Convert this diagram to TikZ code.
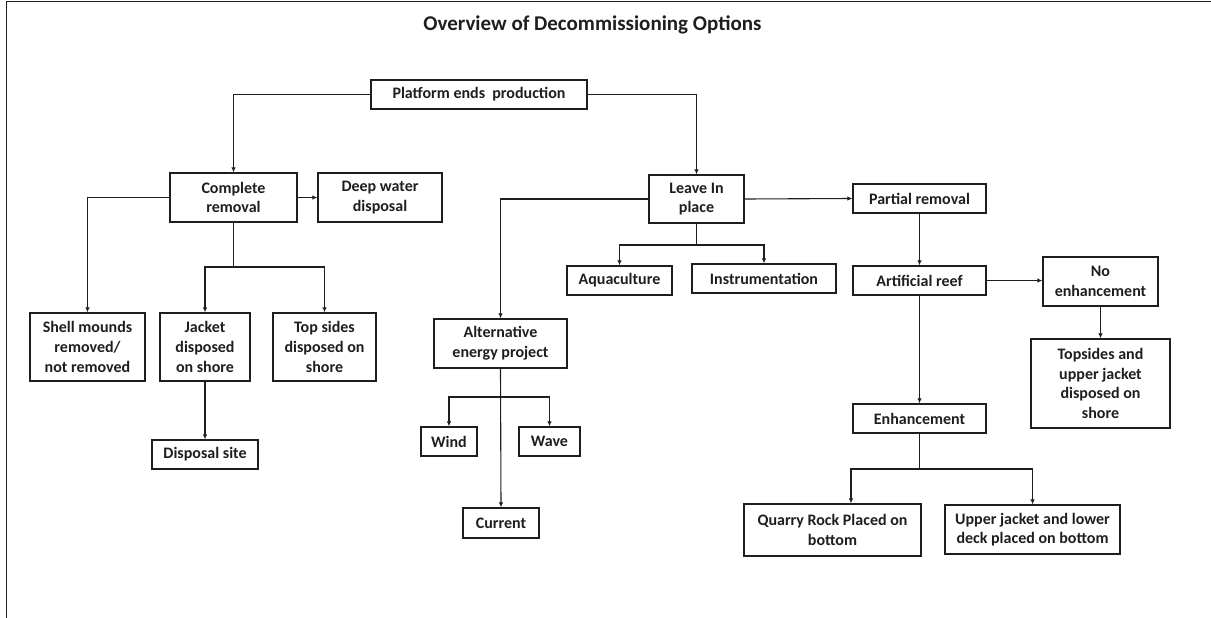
\documentclass[tikz,border=0pt]{standalone}
\usepackage{fontspec}
\setmainfont{Carlito}
\usetikzlibrary{arrows.meta}
\definecolor{ink}{HTML}{1E1E1E}
\begin{document}
\begin{tikzpicture}[x=1pt,y=-1pt,
  box/.style={draw=ink,line width=1.3pt,inner sep=0pt,align=center,
    text=ink,font=\fontsize{16}{19.6}\selectfont\bfseries},
  link/.style={draw=ink,line width=1.1pt},
  arr/.style={link,-{Latex[length=5pt,width=4.5pt]}}]
\useasboundingbox (0,0) rectangle (1211,618);
% frame lines
\draw[ink,line width=1.4pt] (1211,1.5) -- (6.5,1.5) -- (6.5,618);
% title
\node[text=ink,font=\fontsize{21}{25}\selectfont\bfseries] (title) at (592.5,25) {Overview of Decommissioning Options};

% boxes
\node[box,minimum width=216pt,minimum height=29pt] (plat) at (479,94.5) {Platform ends\ \ production};
\node[box,minimum width=127pt,minimum height=49pt] (comp) at (233.5,197.5) {Complete\\removal};
\node[box,minimum width=124pt,minimum height=49pt] (deep) at (380,197.5) {Deep water\\disposal};
\node[box,minimum width=95pt,minimum height=48pt] (leave) at (696.5,199) {Leave In\\place};
\node[box,minimum width=133pt,minimum height=29pt] (partial) at (919.5,198.5) {Partial removal};
\node[box,minimum width=115pt,minimum height=68pt] (shell) at (87.5,347) {Shell mounds\\removed/\\not removed};
\node[box,minimum width=90pt,minimum height=68pt] (jacket) at (205,347) {Jacket\\disposed\\on shore};
\node[box,minimum width=103pt,minimum height=68pt] (tops) at (324.5,347) {Top sides\\disposed on\\shore};
\node[box,minimum width=106pt,minimum height=29pt] (site) at (205,454.5) {Disposal site};
\node[box,minimum width=105pt,minimum height=29pt] (aqua) at (619.5,280.5) {Aquaculture};
\node[box,minimum width=144pt,minimum height=29pt] (instr) at (764,278.5) {Instrumentation};
\node[box,minimum width=133pt,minimum height=49pt] (alt) at (500.5,343.5) {Alternative\\energy project};
\node[box,minimum width=56pt,minimum height=29pt] (wind) at (449,441.5) {Wind};
\node[box,minimum width=61pt,minimum height=29pt] (wave) at (549.5,441.5) {Wave};
\node[box,minimum width=76pt,minimum height=30pt] (current) at (501,523) {Current};
\node[box,minimum width=133pt,minimum height=29pt] (reef) at (919.5,280.5) {Artificial reef};
\node[box,minimum width=115pt,minimum height=49pt] (noenh) at (1100.5,281.5) {No\\enhancement};
\node[box,minimum width=139pt,minimum height=89pt] (upshore) at (1100.5,383.5) {Topsides and\\upper jacket\\disposed on\\shore};
\node[box,minimum width=133pt,minimum height=29pt] (enh) at (919.5,418.5) {Enhancement};
\node[box,minimum width=177pt,minimum height=52pt] (quarry) at (832.5,530) {Quarry Rock Placed on\\bottom};
\node[box,minimum width=175pt,minimum height=49pt] (upper) at (1032.5,529.5) {Upper jacket and lower\\deck placed on bottom};

% branch points
\coordinate (cj) at (233.5,267);
\coordinate (lj) at (696.5,245);
\coordinate (aj) at (500.5,397);
\coordinate (ej) at (919.5,469);

% connectors
\draw[arr] (plat.west) -| (comp.north);
\draw[arr] (plat.east) -| (leave.north);
\draw[arr] (comp.east) -- (deep.west);
\draw[arr] (comp.west) -| (shell.north);
\draw[link] (comp.south) -- (cj);
\draw[arr] (cj) -| (jacket.north);
\draw[arr] (cj) -| (tops.north);
\draw[arr] (jacket.south) -- (site.north);
\draw[arr] (leave.west) -| (alt.north);
\draw[link] (leave.south) -- (lj);
\draw[arr] (lj) -| (aqua.north);
\draw[arr] (lj) -| (instr.north);
\draw[arr] (leave.east) -- (partial.west);
\draw[arr] (partial.south) -- (reef.north);
\draw[arr] (alt.south) -- (current.north);
\draw[arr] (aj) -| (wind.north);
\draw[arr] (aj) -| (wave.north);
\draw[arr] (reef.east) -- (noenh.west |- reef.east);
\draw[arr] (noenh.south) -- (upshore.north);
\draw[arr] (reef.south) -- (enh.north);
\draw[link] (enh.south) -- (ej);
\draw[arr] (ej) -| ([xshift=18.5pt]quarry.north);
\draw[arr] (ej) -| (upper.north);
\end{tikzpicture}
\end{document}
